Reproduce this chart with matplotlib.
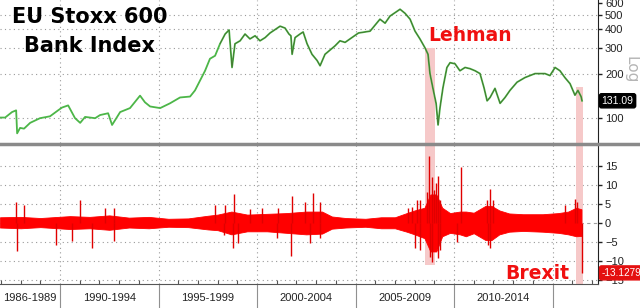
import numpy as np
import matplotlib
matplotlib.use("Agg")
import matplotlib.pyplot as plt
from matplotlib.lines import Line2D
from matplotlib.ticker import FixedLocator, NullLocator, FixedFormatter

# EU Stoxx 600 bank index (decimal year, level)
px_year = [1986.95, 1987.21, 1987.56, 1987.77, 1987.82, 1987.97, 1988.17, 1988.48, 1988.98,
           1989.49, 1989.90, 1990.10, 1990.41, 1990.76, 1991.02, 1991.27, 1991.78,
           1992.03, 1992.44, 1992.64, 1993.05, 1993.55, 1994.06, 1994.31, 1994.57,
           1995.08, 1995.58, 1996.09, 1996.60, 1996.85, 1997.11, 1997.36, 1997.61,
           1997.87, 1998.12, 1998.38, 1998.58, 1998.73, 1998.88, 1999.14, 1999.39,
           1999.64, 1999.90, 2000.15, 2000.41, 2000.66, 2001.17, 2001.42, 2001.62,
           2001.72, 2001.78, 2001.93, 2002.18, 2002.34, 2002.54, 2002.79, 2003.05,
           2003.20, 2003.45, 2003.96, 2004.21, 2004.47, 2004.72, 2005.15, 2005.74,
           2006.24, 2006.50, 2006.75, 2007.11, 2007.26, 2007.51, 2007.77, 2008.02,
           2008.27, 2008.53, 2008.68, 2008.78, 2008.93, 2009.09, 2009.19, 2009.29,
           2009.44, 2009.64, 2009.80, 2010.05, 2010.30, 2010.56, 2010.81, 2011.07,
           2011.32, 2011.52, 2011.68, 2011.83, 2012.08, 2012.34, 2012.59, 2012.84,
           2013.20, 2013.60, 2014.11, 2014.62, 2014.87, 2015.13, 2015.38, 2015.63,
           2015.89, 2016.14, 2016.29, 2016.45, 2016.50]
px_level = [101, 101, 110, 113, 79, 86, 85, 93, 100,
            103, 113, 118, 122, 100, 93, 102, 100,
            105, 108, 90, 110, 117, 142, 128, 120,
            117, 126, 138, 140, 154, 180, 209, 252,
            264, 318, 370, 394, 220, 318, 333, 370,
            343, 360, 333, 350, 376, 418, 406, 370,
            360, 270, 350, 370, 382, 318, 270, 245,
            226, 270, 308, 333, 325, 343, 376, 387,
            466, 438, 489, 527, 544, 511, 466, 387,
            343, 298, 270, 200, 159, 126, 90, 118,
            161, 220, 237, 233, 209, 220, 216, 209,
            200, 161, 131, 138, 159, 126, 138, 154,
            175, 188, 200, 200, 194, 220, 209, 188,
            171, 143, 154, 140, 131.09]

# daily % change: dense band (year, upper, lower)
band_year = [1986.95, 1988.0, 1989.0, 1990.5, 1991.5, 1992.5, 1993.5, 1994.5, 1995.5,
             1996.5, 1997.5, 1998.0, 1998.7, 1999.5, 2000.5, 2001.5, 2002.5, 2003.3,
             2003.8, 2004.5, 2005.5, 2006.3, 2007.0, 2007.6, 2008.0, 2008.5, 2008.8,
             2009.1, 2009.4, 2009.8, 2010.3, 2010.6, 2011.0, 2011.6, 2011.9, 2012.3,
             2012.8, 2013.5, 2014.5, 2015.3, 2015.8, 2016.2, 2016.47]
band_hi = [1.5, 1.6, 1.3, 1.8, 1.6, 2.0, 1.4, 1.6, 1.1,
           1.2, 1.9, 2.2, 3.0, 2.2, 2.4, 2.6, 3.0, 3.0,
           1.7, 1.3, 1.1, 1.5, 1.5, 2.6, 3.3, 4.0, 7.5,
           7.5, 4.0, 2.6, 3.0, 3.0, 2.7, 4.5, 4.5, 3.3,
           2.5, 2.3, 2.3, 2.6, 3.0, 4.0, 3.6]
band_lo = [-1.2, -1.4, -1.1, -1.6, -1.4, -1.8, -1.2, -1.4, -1.0,
           -1.1, -1.7, -1.9, -3.0, -2.2, -2.2, -2.6, -3.0, -2.8,
           -1.5, -1.2, -1.0, -1.4, -1.4, -2.3, -3.0, -4.0, -7.5,
           -7.5, -3.5, -2.6, -3.0, -3.5, -2.7, -4.5, -4.5, -3.0,
           -2.3, -2.1, -2.3, -2.6, -3.0, -3.5, -3.4]

# single-day outliers (year, % change)
spike_year = [1987.77, 1987.80, 1988.17, 1989.80, 1990.61, 1991.02, 1991.62, 1992.28,
              1992.74, 1992.76, 1997.87, 1998.32, 1998.38, 1998.78, 1998.83, 1999.04,
              1999.64, 2000.25, 2001.02, 2001.07, 2001.73, 2001.78, 2002.44, 2002.69,
              2002.84, 2003.20, 2003.22, 2007.66, 2007.87, 2008.02, 2008.12, 2008.27,
              2008.29, 2008.63, 2008.73, 2008.78, 2008.88, 2008.90, 2008.98, 2009.09,
              2009.19, 2009.21, 2009.29, 2009.31, 2010.15, 2010.36, 2011.68, 2011.70,
              2011.83, 2011.85, 2011.98, 2015.63, 2016.14, 2016.24, 2016.48]
spike_val = [5.6, -7.3, 4.6, -5.8, -4.7, 6.0, -6.7, 3.9,
             4.0, -4.7, 4.7, -3.2, 4.7, -6.7, 7.6, -5.3,
             3.7, 4.0, -4.0, 4.0, -8.6, 7.0, 5.6, -5.3,
             7.8, 5.6, -4.0, 3.9, 4.3, -6.7, 6.0, 6.0,
             -7.1, 8.2, 17.6, -8.9, 12.2, -10.2, 8.7, 10.4,
             12.4, -9.3, 6.0, -7.1, -4.9, 14.8, 6.0, -5.8,
             8.9, -6.7, 6.0, 4.7, 6.2, 5.5, -13.1279]

era_labels = ["1986-1989", "1990-1994", "1995-1999", "2000-2004", "2005-2009", "2010-2014"]
era_centers = [1988.47, 1992.5, 1997.5, 2002.5, 2007.5, 2012.5]
era_edges = [1990, 1995, 2000, 2005, 2010, 2015]

last_px = 131.09
last_chg = -13.1279

X0, X1 = 1986.95, 2017.31
grid_kw = dict(color="#9a9a9a", linestyle=(0, (1, 3)), linewidth=0.8)
red = "#ff0000"
shade = "#f6c9c9"
tick_font = "Liberation Sans"

fig = plt.figure(figsize=(6.4, 3.08), dpi=100)
ax1 = fig.add_axes([0.0, 1 - 143 / 308, 598 / 640, 143 / 308])
ax2 = fig.add_axes([0.0, 1 - 284 / 308, 598 / 640, 139 / 308])

# ---- top panel: price, log scale
ax1.set_yscale("log")
ax1.set_xlim(X0, X1)
ax1.set_ylim(68, 628)
ax1.fill_between([2008.55, 2009.05], 68, 298, color=shade, lw=0, zorder=1)
ax1.fill_between([2016.2, 2016.55], 68, 163, color=shade, lw=0, zorder=1)
ax1.plot(px_year, px_level, color="#4cb648", lw=1.3, zorder=3)
yr = np.array(px_year)
lv = np.array(px_level)
m = yr >= 1998.0
ax1.plot(yr[m], lv[m], color="#3a1c10", lw=0.45, alpha=0.55, zorder=4)
for v in [100, 200, 300, 400, 500]:
    ax1.axhline(v, zorder=0, **grid_kw)
for e in era_edges:
    ax1.axvline(e, zorder=0, **grid_kw)
ax1.yaxis.tick_right()
ax1.yaxis.set_major_locator(FixedLocator([100, 200, 300, 400, 500, 600]))
ax1.yaxis.set_major_formatter(FixedFormatter(["100", "200", "300", "400", "500", "600"]))
ax1.yaxis.set_minor_locator(NullLocator())
ax1.tick_params(axis="y", length=3, width=1, labelsize=8, colors="#222222", pad=2)
for t in ax1.get_yticklabels():
    t.set_family(tick_font)
ax1.set_xticks([])
for s in ["left", "top", "bottom"]:
    ax1.spines[s].set_visible(False)
ax1.spines["right"].set_color("#222222")
ax1.text(1.006, last_px, f"{last_px:.2f}", transform=ax1.get_yaxis_transform(),
         fontsize=7.5, family=tick_font, color="white", va="center", ha="left",
         bbox=dict(boxstyle="round,pad=0.2", fc="black", ec="black"), zorder=10)
ax1.text(2008.7, 360, "Lehman", color="#f01010", fontsize=13.5, fontweight="bold",
         ha="left", va="center", zorder=6)
fig.text(0.14, 0.945, "EU Stoxx 600", fontsize=15, fontweight="bold", ha="center", va="center")
fig.text(0.14, 0.852, "Bank Index", fontsize=15, fontweight="bold", ha="center", va="center")
fig.text(0.986, 0.775, "Log", rotation=270, fontsize=11, color="#b5b5b5", ha="center", va="center")

# ---- bottom panel: daily % change
ax2.set_xlim(X0, X1)
ax2.set_ylim(-16.05, 20.5)
ax2.fill_between([2008.55, 2009.05], -11, 20.5, color=shade, lw=0, zorder=1)
ax2.fill_between([2016.2, 2016.55], -16.05, 20.5, color=shade, lw=0, zorder=1)
ax2.fill_between(band_year, band_lo, band_hi, color=red, lw=0.6, edgecolor=red, zorder=3)
ax2.vlines(spike_year, 0, spike_val, color="#e00000", lw=1.0, zorder=3)
for v in [-15, -10, -5, 5, 10, 15]:
    ax2.axhline(v, zorder=0, **grid_kw)
ax2.axhline(0, color="#a0a0a0", lw=0.8, linestyle=(0, (3, 3)), zorder=0)
for e in era_edges:
    ax2.axvline(e, zorder=0, **grid_kw)
ax2.yaxis.tick_right()
ax2.set_yticks([-15, -10, -5, 0, 5, 10, 15])
ax2.tick_params(axis="y", length=3, width=1, labelsize=8, colors="#222222", pad=2)
for t in ax2.get_yticklabels():
    t.set_family(tick_font)
ax2.set_xticks(era_edges)
ax2.set_xticklabels([])
ax2.set_xticks(np.arange(1987, 2018), minor=True)
ax2.tick_params(axis="x", which="major", direction="out", length=17.5, width=0.8, color="#909090")
ax2.tick_params(axis="x", which="minor", direction="in", length=3, width=0.8, color="#555555")
for c, lab in zip(era_centers, era_labels):
    ax2.text(c, -0.1, lab, transform=ax2.get_xaxis_transform(), fontsize=8,
             family=tick_font, color="#222222", ha="center", va="center")
for s in ["left", "top"]:
    ax2.spines[s].set_visible(False)
ax2.spines["right"].set_color("#222222")
ax2.spines["bottom"].set_color("#555555")
ax2.text(1.006, last_chg, f"{last_chg:.4f}", transform=ax2.get_yaxis_transform(),
         fontsize=7.2, family=tick_font, color="white", va="center", ha="left",
         bbox=dict(boxstyle="round,pad=0.2", fc="#e41010", ec="#e41010"), zorder=10)
ax2.text(2012.6, -13.2, "Brexit", color="#f01010", fontsize=13.5, fontweight="bold",
         ha="left", va="center", zorder=6)

# thick grey separator between the panels
fig.add_artist(Line2D([0, 1], [1 - 144 / 308, 1 - 144 / 308], transform=fig.transFigure,
                      color="#8a8a8a", lw=2.5))

fig.savefig("out.png", dpi=100)
